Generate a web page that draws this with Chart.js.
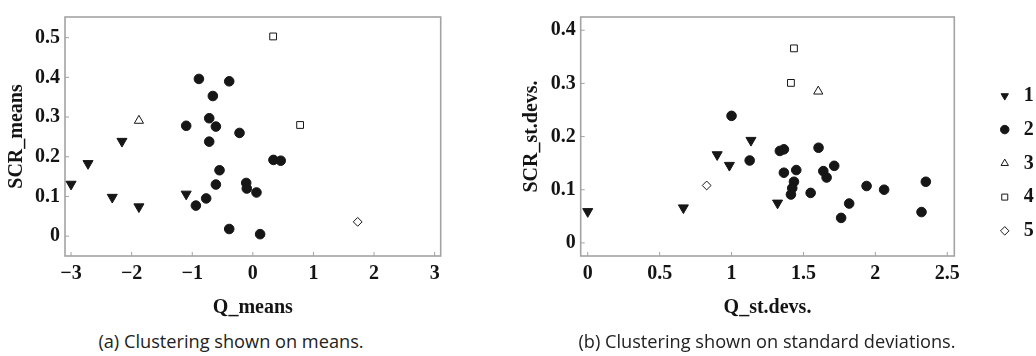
<!DOCTYPE html>
<html>
<head>
<meta charset="utf-8">
<script src="https://cdn.jsdelivr.net/npm/chart.js@4.4.1/dist/chart.umd.min.js"></script>
<style>
  body { margin: 0; background: #fff; width: 1036px; height: 356px; position: relative; overflow: hidden; }
  canvas { position: absolute; top: 0; }
  .cap { position: absolute; top: 328px; line-height: 26px; font-family: "Open Sans", Lato, sans-serif; font-size: 18.2px; color: #222; text-align: center; white-space: nowrap; }
</style>
</head>
<body>
<canvas id="means" width="520" height="320" style="left:0"></canvas>
<canvas id="devs" width="521" height="320" style="left:515px"></canvas>
<div class="cap" style="left:0;width:462px">(a) Clustering shown on means.</div>
<div class="cap" style="left:520px;width:494px">(b) Clustering shown on standard deviations.</div>
<script>
// cluster names (legend)
const clusterNames = ["1", "2", "3", "4", "5"];

// (a) means: [Q_means, SCR_means]
const meansC1 = [[-3.00, 0.131], [-2.72, 0.183], [-2.16, 0.239], [-2.32, 0.098], [-1.88, 0.074], [-1.10, 0.106]];
const meansC2 = [[-0.89, 0.396], [-0.39, 0.390], [-0.66, 0.353], [-1.10, 0.278], [-0.72, 0.297], [-0.61, 0.276],
  [-0.22, 0.260], [-0.72, 0.238], [0.34, 0.192], [0.46, 0.190], [-0.55, 0.166], [-0.61, 0.130], [-0.11, 0.134],
  [-0.10, 0.120], [0.06, 0.110], [-0.94, 0.077], [-0.77, 0.095], [-0.39, 0.018], [0.12, 0.005]];
const meansC3 = [[-1.88, 0.291]];
const meansC4 = [[0.335, 0.503], [0.78, 0.280]];
const meansC5 = [[1.73, 0.036]];

// (b) standard deviations: [Q_st.devs., SCR_st.devs.]
const devsC1 = [[0.00, 0.059], [0.665, 0.066], [0.90, 0.166], [0.985, 0.146], [1.135, 0.193], [1.32, 0.075]];
const devsC2 = [[1.00, 0.239], [1.126, 0.155], [1.336, 0.173], [1.364, 0.176], [1.364, 0.132], [1.45, 0.137],
  [1.434, 0.115], [1.422, 0.103], [1.413, 0.091], [1.55, 0.094], [1.605, 0.179], [1.638, 0.135], [1.661, 0.123],
  [1.714, 0.145], [1.762, 0.047], [1.818, 0.074], [1.939, 0.107], [2.061, 0.100], [2.321, 0.058], [2.351, 0.115]];
const devsC3 = [[1.603, 0.285]];
const devsC4 = [[1.434, 0.366], [1.413, 0.301]];
const devsC5 = [[0.827, 0.108]];

// tick labels
const meansXTicks = [-3, -2, -1, 0, 1, 2, 3];
const meansYTicks = [0, 0.1, 0.2, 0.3, 0.4, 0.5];
const devsXTicks = [0, 0.5, 1, 1.5, 2, 2.5];
const devsYTicks = [0, 0.1, 0.2, 0.3, 0.4];

const ink = "#161616";
const textInk = "#141414";
const axisFont = { family: '"Liberation Serif", "DejaVu Serif", serif', size: 20, weight: "bold" };

const clusterStyles = [
  { pointStyle: "triangle", rotation: 180, radius: 5.8, fill: ink },
  { pointStyle: "circle", rotation: 0, radius: 4.8, fill: ink },
  { pointStyle: "triangle", rotation: 0, radius: 5.3, fill: "#fff" },
  { pointStyle: "rect", rotation: 0, radius: 4.8, fill: "#fff" },
  { pointStyle: "rectRot", rotation: 0, radius: 4.4, fill: "#fff" },
];

const buildSets = (clusters) => {
  return clusters.map((pts, i) => {
    const st = clusterStyles[i];
    return {
      label: clusterNames[i],
      data: pts.map((p) => ({ x: p[0], y: p[1] })),
      pointStyle: st.pointStyle,
      pointRotation: st.rotation,
      pointRadius: st.radius,
      backgroundColor: st.fill,
      borderColor: ink,
      borderWidth: 1,
    };
  });
};

const fmt = (v) => String(v).replace("-", "\u2212");

// grey box round the plot area, small ticks pointing inward
const framePlugin = {
  id: "frame",
  beforeDatasetsDraw(chart) {
    const { ctx, chartArea: a, scales } = chart;
    ctx.save();
    ctx.strokeStyle = "#a3a3a3";
    ctx.lineWidth = 1.6;
    ctx.strokeRect(a.left, a.top, a.right - a.left, a.bottom - a.top);
    ctx.lineWidth = 1;
    ctx.beginPath();
    scales.x.ticks.forEach((t) => {
      const px = scales.x.getPixelForValue(t.value);
      ctx.moveTo(px, a.bottom);
      ctx.lineTo(px, a.bottom - 4);
    });
    scales.y.ticks.forEach((t) => {
      const py = scales.y.getPixelForValue(t.value);
      ctx.moveTo(a.left, py);
      ctx.lineTo(a.left + 4, py);
    });
    ctx.stroke();
    ctx.restore();
  },
};

const buildAxis = (tickList, range, title, extra) => {
  return Object.assign({
    type: "linear",
    min: range[0],
    max: range[1],
    afterBuildTicks: (s) => {
      s.ticks = tickList.map((v) => ({ value: v }));
    },
    grid: { display: false, drawTicks: false },
    border: { display: false },
    ticks: { font: axisFont, color: textInk, callback: fmt, maxRotation: 0, autoSkip: false },
    title: { display: true, text: title, font: axisFont, color: textInk },
  }, extra);
};

const createScatter = (ctx, clusters, opts) => {
  const scales = {
    x: buildAxis(opts.xTicks, opts.xRange, opts.xTitle, {
      afterFit: (s) => { s.height = 64; },
    }),
    y: buildAxis(opts.yTicks, opts.yRange, opts.yTitle, {
      afterFit: (s) => { s.width = opts.yWidth; },
    }),
  };
  scales.x.ticks.padding = 6;
  scales.x.title.padding = { top: 0, bottom: 0.5 };
  scales.y.ticks.padding = 5;
  scales.y.title.padding = { top: 5, bottom: 0 };
  if (opts.gap) {
    scales.gap = {
      type: "linear",
      position: "right",
      display: true,
      grid: { display: false, drawTicks: false },
      border: { display: false },
      ticks: { display: false },
      afterFit: (s) => { s.width = opts.gap; },
    };
  }
  return new Chart(ctx, {
    type: "scatter",
    data: { datasets: buildSets(clusters) },
    options: {
      responsive: false,
      animation: false,
      events: [],
      layout: { padding: opts.padding },
      scales: scales,
      plugins: {
        tooltip: { enabled: false },
        legend: opts.legend
          ? {
              display: true,
              position: "right",
              align: "center",
              maxWidth: 54,
              labels: {
                usePointStyle: true,
                boxWidth: 18,
                boxHeight: 6,
                padding: 13.75,
                font: axisFont,
                color: textInk,
              },
            }
          : { display: false },
      },
    },
    plugins: [framePlugin],
  });
};

createScatter(document.getElementById("means"), [meansC1, meansC2, meansC3, meansC4, meansC5], {
  xTicks: meansXTicks,
  yTicks: meansYTicks,
  xRange: [-3.1, 3.1],
  yRange: [-0.05, 0.552],
  xTitle: "Q_means",
  yTitle: "SCR_means",
  yWidth: 65,
  padding: { top: 5, right: 79.3, left: 0, bottom: 0 },
  legend: false,
});

createScatter(document.getElementById("devs"), [devsC1, devsC2, devsC3, devsC4, devsC5], {
  xTicks: devsXTicks,
  yTicks: devsYTicks,
  xRange: [-0.049, 2.549],
  yRange: [-0.0247, 0.425],
  xTitle: "Q_st.devs.",
  yTitle: "SCR_st.devs.",
  yWidth: 65.7,
  gap: 27.7,
  padding: { top: 6.7, right: 0, left: 0, bottom: 0 },
  legend: true,
});
</script>
</body>
</html>
